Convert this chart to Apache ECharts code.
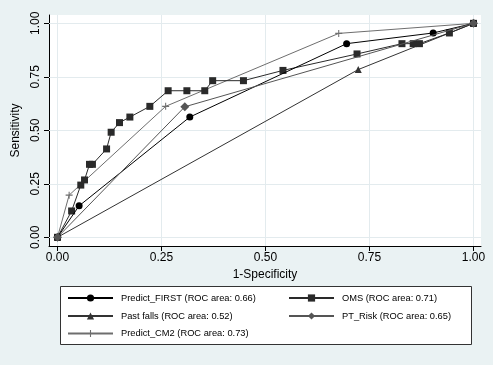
<!DOCTYPE html>
<html><head><meta charset="utf-8">
<script src="https://cdn.jsdelivr.net/npm/echarts@6/dist/echarts.min.js"></script>
<style>html,body{margin:0;padding:0;background:#eaf2f3;}#c{width:493px;height:365px;}</style>
</head><body><div id="c"></div>
<script>
const tickValues = [0, 0.25, 0.5, 0.75, 1];
const tickLabels = ['0.00', '0.25', '0.50', '0.75', '1.00'];

const predictFirstX = [0, 0.052, 0.318, 0.695, 0.903, 1];
const predictFirstY = [0, 0.147, 0.562, 0.905, 0.955, 1];

const omsX = [0, 0.034, 0.056, 0.065, 0.077, 0.084, 0.118, 0.129, 0.149, 0.174, 0.222, 0.266, 0.311, 0.354, 0.373, 0.447, 0.542, 0.720, 0.828, 0.855, 0.870, 0.942, 1];
const omsY = [0, 0.123, 0.244, 0.268, 0.341, 0.341, 0.413, 0.491, 0.536, 0.562, 0.612, 0.685, 0.685, 0.685, 0.732, 0.732, 0.780, 0.857, 0.905, 0.905, 0.905, 0.955, 1];

const pastFallsX = [0, 0.723, 1];
const pastFallsY = [0, 0.784, 1];

const ptRiskX = [0, 0.306, 1];
const ptRiskY = [0, 0.610, 1];

const cm2X = [0, 0.028, 0.260, 0.676, 1];
const cm2Y = [0, 0.197, 0.612, 0.953, 1];

const names = ['Predict_FIRST (ROC area: 0.66)', 'OMS (ROC area: 0.71)', 'Past falls (ROC area: 0.52)', 'PT_Risk (ROC area: 0.65)', 'Predict_CM2 (ROC area: 0.73)'];

const zip = (xs, ys) => xs.map((x, i) => [x, ys[i]]);
const plus = 'path://M3.4,0H4.6V3.4H8V4.6H4.6V8H3.4V4.6H0V3.4H3.4Z';

function ser(name, data, color, symbol, size, z) {
  return {
    type: 'line', name, data, symbol, symbolSize: size, z,
    lineStyle: {color, width: 1}, itemStyle: {color},
    animation: false, showAllSymbols: true
  };
}

const font = 'Liberation Sans, Arial, sans-serif';
const chart = echarts.init(document.getElementById('c'));
const legendPos = [
  {left: 67, top: 293.5},
  {left: 288, top: 293.5},
  {left: 67, top: 311.5},
  {left: 288, top: 311.5},
  {left: 67, top: 329}
];
const gridColor = '#e3ebee';
chart.setOption({
  backgroundColor: '#eaf2f3',
  animation: false,
  grid: {left: 49, right: 12, top: 15, bottom: 119, show: true, backgroundColor: '#ffffff', borderWidth: 0},
  xAxis: {
    type: 'value', min: -0.0204, max: 1.018,
    name: '1-Specificity', nameLocation: 'middle', nameGap: 21,
    nameTextStyle: {fontFamily: font, fontSize: 12, color: '#000'},
    axisLine: {show: true, onZero: false, lineStyle: {color: '#000', width: 1}},
    axisTick: {show: true, length: 5, customValues: tickValues, lineStyle: {color: '#000'}},
    axisLabel: {customValues: tickValues, margin: 6, fontFamily: font, fontSize: 12, color: '#000',
      formatter: v => tickLabels[tickValues.indexOf(v)] ?? ''},
    splitLine: {show: false}
  },
  yAxis: {
    type: 'value', min: -0.0407, max: 1.039,
    name: 'Sensitivity', nameLocation: 'middle', nameGap: 16,
    nameTextStyle: {fontFamily: font, fontSize: 12, color: '#000'},
    axisLine: {show: true, onZero: false, lineStyle: {color: '#000', width: 1}},
    axisTick: {show: true, length: 5, customValues: tickValues, lineStyle: {color: '#000'}},
    axisLabel: {customValues: tickValues, rotate: 90, margin: 7, fontFamily: font, fontSize: 12, color: '#000',
      formatter: v => tickLabels[tickValues.indexOf(v)] ?? ''},
    splitLine: {show: false}
  },
  legend: names.map((n, i) => ({
    data: [n], left: legendPos[i].left, top: legendPos[i].top, padding: 0,
    itemWidth: 45, itemHeight: 9, itemGap: 0,
    textStyle: {fontFamily: font, fontSize: 9.3, color: '#000', padding: [0, 0, 0, 3]}
  })),
  graphic: [{
    type: 'rect', left: 60, top: 286, z: -1,
    shape: {width: 411, height: 58},
    style: {fill: '#ffffff', stroke: '#333', lineWidth: 1}
  }],
  series: [
    {
      type: 'line', name: 'gridlines', data: [], silent: true, z: 1,
      markLine: {
        silent: true, symbol: 'none', animation: false, label: {show: false}, z: 1,
        lineStyle: {color: gridColor, width: 1, type: 'solid'},
        data: tickValues.map(v => ({xAxis: v})).concat(tickValues.map(v => ({yAxis: v})))
      }
    },
    ser(names[0], zip(predictFirstX, predictFirstY), '#000000', 'circle', 7, 15),
    ser(names[1], zip(omsX, omsY), '#2a2a2a', 'rect', 7, 14),
    ser(names[2], zip(pastFallsX, pastFallsY), '#333333', 'triangle', 7, 13),
    ser(names[4], zip(cm2X, cm2Y), '#6e6e6e', plus, 7, 12),
    ser(names[3], zip(ptRiskX, ptRiskY), '#555555', 'diamond', 9, 16)
  ]
});
</script></body></html>
